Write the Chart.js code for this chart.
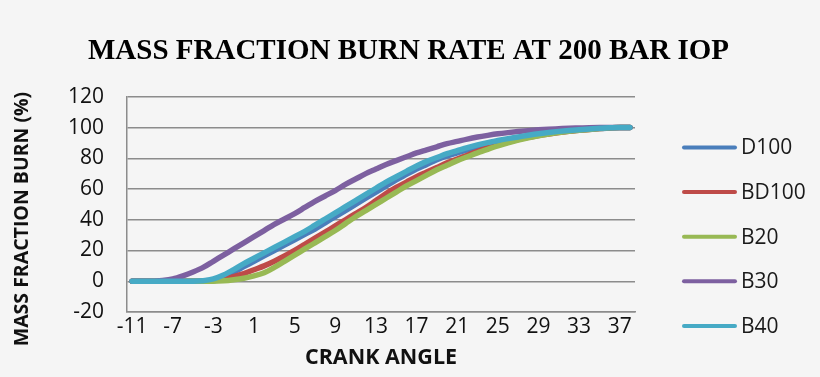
<!DOCTYPE html>
<html>
<head>
<meta charset="utf-8">
<script src="https://cdn.jsdelivr.net/npm/chart.js@4.4.1/dist/chart.umd.min.js"></script>
<style>
  html, body { margin: 0; padding: 0; background: #f5f5f5; }
  #wrap { width: 820px; height: 377px; }
</style>
</head>
<body>
<div id="wrap"><canvas id="chart" width="820" height="377"></canvas></div>
<script>
// crank angle (deg) categories
const crankAngle = [-11, -10, -9, -8, -7, -6, -5, -4, -3, -2, -1, 0, 1, 2, 3, 4, 5, 6, 7, 8, 9,
  10, 11, 12, 13, 14, 15, 16, 17, 18, 19, 20, 21, 22, 23, 24, 25, 26, 27, 28, 29,
  30, 31, 32, 33, 34, 35, 36, 37, 38];

// mass fraction burned (%)
const d100 = [0, 0, 0, 0, 0, 0, 0, 0.2, 1, 3, 6, 9.5, 13, 16.5, 20, 23.5, 27, 30.5, 34, 38, 42,
  46, 50, 54, 58, 62, 66, 69.5, 73, 76, 79, 81.5, 83.5, 85.5, 87.3, 89, 90.5, 92, 93.2, 94.4, 95.4,
  96.3, 97.1, 97.8, 98.4, 98.9, 99.3, 99.7, 100, 100];
const bd100 = [0, 0, 0, 0, 0, 0, 0, 0, 0.5, 1.5, 3, 5, 7.5, 10, 13, 16.5, 20, 24, 28, 32, 36,
  40, 44, 48, 52.5, 57, 61, 64.5, 68, 71, 74, 77, 79.5, 82, 84.5, 86.8, 88.8, 90.6, 92.2, 93.6, 94.8,
  95.8, 96.7, 97.5, 98.2, 98.8, 99.3, 99.7, 100, 100];
const b20 = [0, 0, 0, 0, 0, 0, 0, 0, 0, 0.3, 1, 2, 3.5, 5.5, 9, 13, 17, 21, 25, 29, 33,
  37.5, 42, 46, 50, 54, 58, 62, 65.5, 69, 72.5, 75.5, 78.5, 81, 83.5, 85.8, 88, 90, 91.8, 93.3, 94.6,
  95.7, 96.7, 97.5, 98.2, 98.8, 99.3, 99.7, 100, 100];
const b30 = [0, 0, 0, 0.5, 1.5, 3.5, 6, 9, 13, 17, 21, 25, 29, 33, 37, 40.5, 44, 48, 52, 55.5, 59,
  63, 66.5, 70, 73, 76, 78.5, 81, 83.5, 85.5, 87.5, 89.5, 91, 92.5, 93.8, 94.9, 95.9, 96.7, 97.4, 98, 98.5,
  98.9, 99.2, 99.5, 99.7, 99.9, 100, 100, 100, 100];
const b40 = [0, 0, 0, 0, 0, 0, 0, 0.3, 1.5, 4, 7.5, 11.5, 15, 18.5, 22, 25.5, 29, 32.5, 36.5, 40.5, 44.5,
  48.5, 52.5, 56.5, 60.5, 64.5, 68, 71.5, 75, 78, 80.5, 83, 85, 87, 88.7, 90.2, 91.6, 92.8, 93.9, 95, 96,
  96.8, 97.5, 98.1, 98.6, 99.1, 99.5, 99.8, 100, 100];

const seriesNames = ['D100', 'BD100', 'B20', 'B30', 'B40'];
const yTicks = { min: -20, max: 120, step: 20 };

const colors = ['#4a7ebb', '#be4b48', '#98b954', '#7d60a0', '#46aac5'];
const FONT = "'Open Sans', 'Liberation Sans', sans-serif";

function makeSet(i, values) {
  return {
    label: seriesNames[i],
    data: values,
    borderColor: colors[i],
    backgroundColor: colors[i],
    borderWidth: 5.5,
    pointRadius: 0,
    cubicInterpolationMode: 'monotone',
    borderCapStyle: 'round',
    order: 5 - i
  };
}

// legend on the right and the rotated y title, drawn by hand
const sideLegend = {
  id: 'sideLegend',
  afterDraw(chart) {
    const ctx = chart.ctx;
    ctx.save();
    ctx.font = '21px ' + FONT;
    ctx.textBaseline = 'middle';
    ctx.textAlign = 'left';
    chart.data.datasets.forEach((ds, i) => {
      const y = 147.5 + i * 44.6;
      ctx.strokeStyle = ds.borderColor;
      ctx.lineWidth = 4;
      ctx.lineCap = 'round';
      ctx.beginPath();
      ctx.moveTo(684, y);
      ctx.lineTo(735, y);
      ctx.stroke();
      ctx.fillStyle = '#1a1a1a';
      ctx.fillText(ds.label, 741, y + 1);
    });

    ctx.translate(22, 219);
    ctx.rotate(-Math.PI / 2);
    ctx.font = 'bold 19.5px ' + FONT;
    ctx.textAlign = 'center';
    ctx.fillStyle = '#111';
    ctx.fillText('MASS FRACTION BURN (%)', 0, 0);
    ctx.restore();
  }
};

new Chart(document.getElementById('chart'), {
  type: 'line',
  data: {
    labels: crankAngle,
    datasets: [
      makeSet(0, d100),
      makeSet(1, bd100),
      makeSet(2, b20),
      makeSet(3, b30),
      makeSet(4, b40)
    ]
  },
  options: {
    responsive: false,
    animation: false,
    layout: { padding: { left: 60, right: 63, top: 0, bottom: 0 } },
    plugins: {
      legend: { display: false },
      tooltip: { enabled: false },
      title: {
        display: true,
        text: 'MASS FRACTION BURN RATE AT 200 BAR IOP',
        color: '#000',
        font: { family: "'Liberation Serif', 'Times New Roman', serif", size: 29, weight: 'bold' },
        padding: { top: 34, bottom: 28 }
      }
    },
    scales: {
      x: {
        offset: true,
        grid: { display: false, drawTicks: false },
        border: { display: true, color: '#8c8c8c', width: 1.5 },
        ticks: {
          autoSkip: false,
          maxRotation: 0,
          padding: 2,
          color: '#111',
          font: { family: FONT, size: 21 },
          callback: function (v, idx) { return idx % 4 === 0 ? String(crankAngle[idx]) : ''; }
        },
        title: {
          display: true,
          text: 'CRANK ANGLE',
          color: '#111',
          font: { family: FONT, size: 21.5, weight: 'bold' },
          padding: { top: 0, bottom: 6 }
        },
        afterFit(scale) { scale.height = 65; }
      },
      y: {
        min: yTicks.min,
        max: yTicks.max,
        grid: { color: '#8c8c8c', lineWidth: 1.5, drawTicks: false },
        border: { display: true, color: '#8c8c8c', width: 1.5 },
        ticks: {
          stepSize: yTicks.step,
          padding: 23,
          color: '#111',
          font: { family: FONT, size: 21 }
        },
        afterFit(scale) { scale.width = 67; }
      },
      // empty right-hand scale that keeps room for the legend
      yRight: {
        position: 'right',
        min: yTicks.min,
        max: yTicks.max,
        grid: { display: false },
        border: { display: false },
        ticks: { display: false },
        afterFit(scale) { scale.width = 122; }
      }
    }
  },
  plugins: [sideLegend]
});
</script>
</body>
</html>
